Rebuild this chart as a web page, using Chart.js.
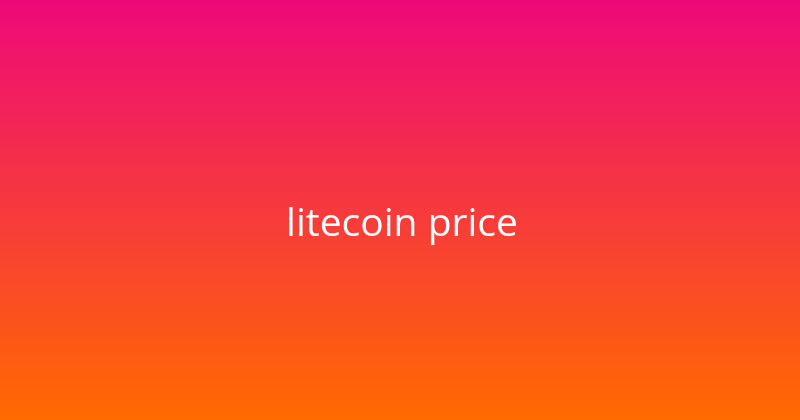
<!DOCTYPE html>
<html>
<head>
<meta charset="utf-8">
<title>litecoin price</title>
<script src="https://cdn.jsdelivr.net/npm/chart.js@4"></script>
<style>
    html, body { margin: 0; padding: 0; width: 800px; height: 420px; overflow: hidden; }
    #wrap { width: 800px; height: 420px; position: relative; }
</style>
</head>
<body>
<div id="wrap"><canvas id="canvasChart"></canvas></div>
<script>
// the picture carries no plotted values, only the heading
let labelsX = [];
let hargaLitecoin = [];
let judul = 'litecoin price';
let warnaAtas = '#ee0979';
let warnaBawah = '#ff6a00';

// latar gradasi + teks judul di tengah
const pluginLatar = {
    id: 'latar',
    beforeDraw(chart) {
        let ctx = chart.ctx;
        let g = ctx.createLinearGradient(0, 0, 0, chart.height);
        g.addColorStop(0, warnaAtas);
        g.addColorStop(1, warnaBawah);
        ctx.save();
        ctx.fillStyle = g;
        ctx.fillRect(0, 0, chart.width, chart.height);
        ctx.restore();
    },
    afterDraw(chart) {
        let ctx = chart.ctx;
        ctx.save();
        ctx.fillStyle = '#ffffff';
        ctx.font = '39px "Open Sans", "Noto Sans", sans-serif';
        ctx.textAlign = 'center';
        ctx.textBaseline = 'alphabetic';
        ctx.fillText(judul, 402, 236);
        ctx.restore();
    }
};

let ctx = document.getElementById('canvasChart').getContext('2d');
let globalChart = new Chart(ctx, {
    type: 'line',
    data: {
        labels: labelsX,
        datasets: [{ label: judul, data: hargaLitecoin, pointRadius: 0 }]
    },
    options: {
        responsive: true,
        maintainAspectRatio: false,
        animation: false,
        plugins: { legend: { display: false }, tooltip: { enabled: false } },
        scales: { x: { display: false }, y: { display: false } }
    },
    plugins: [pluginLatar]
});
</script>
</body>
</html>
